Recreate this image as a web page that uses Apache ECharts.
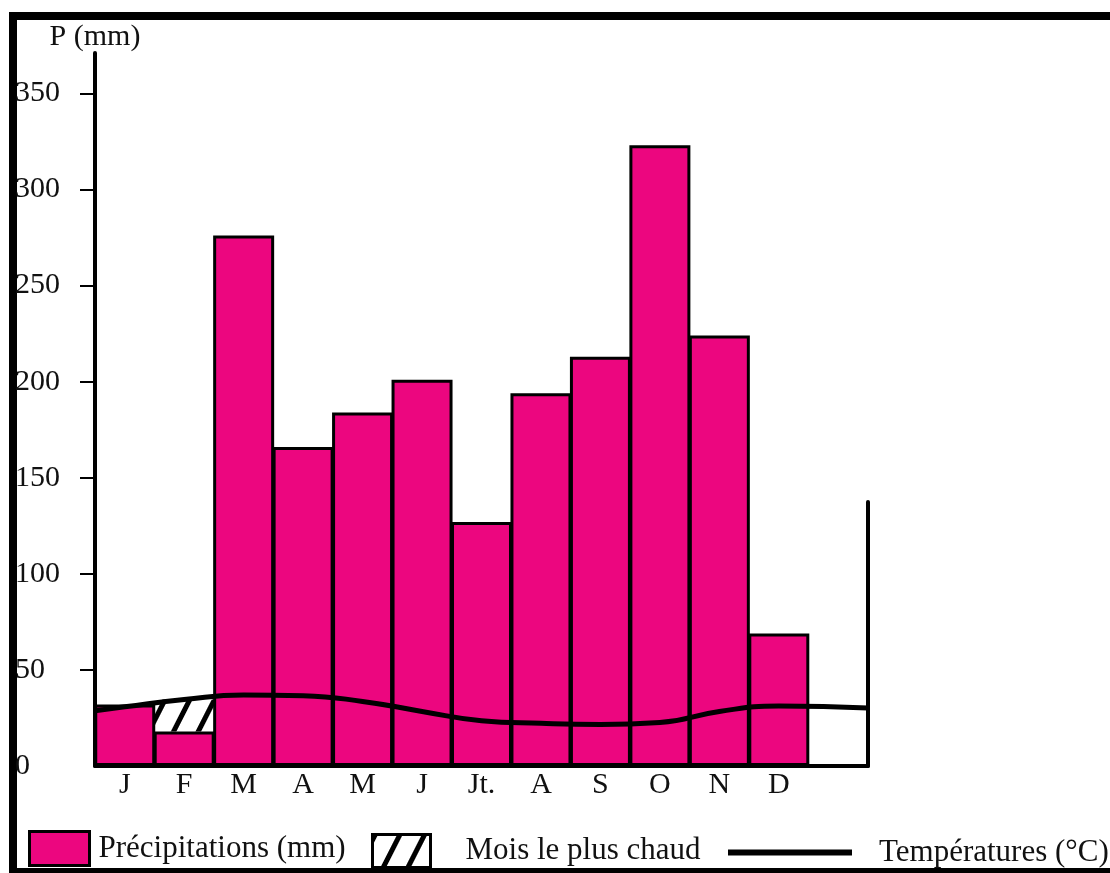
<!DOCTYPE html>
<html>
<head>
<meta charset="utf-8">
<script src="https://cdn.jsdelivr.net/npm/echarts@6/dist/echarts.min.js"></script>
<style>
  html, body { margin: 0; padding: 0; background: #fff; }
  #chart { width: 1110px; height: 873px; }
</style>
</head>
<body>
<div id="chart"></div>
<script>
// mois (13e case vide à droite)
var months = ['J', 'F', 'M', 'A', 'M', 'J', 'Jt.', 'A', 'S', 'O', 'N', 'D', ''];
// précipitations en mm
var precip = [32, 18, 276, 166, 184, 201, 127, 194, 213, 323, 224, 69];
// températures en °C (échelle P = 2T), positions en mois
var tempPos = [0, 0.5, 1.5, 2.5, 3.5, 4.5, 5.5, 6.5, 7.5, 8.5, 9.5, 10.5, 11.5, 13];
var temps = [14.4, 15.4, 17.3, 18.5, 18.3, 16.8, 14.2, 11.8, 11.1, 10.8, 11.3, 14.2, 15.6, 15.1];
var yTicks = [0, 50, 100, 150, 200, 250, 300, 350];
var hatchMonth = 1; // F

var pMax = 371;
var serif = 'Liberation Serif';
var pink = '#ec067f';

var hatch = precip.map(function (v, i) {
    return i === hatchMonth ? +(temps[i + 1] * 2 - v).toFixed(1) : '-';
});
var tempData = tempPos.map(function (x, i) { return [x, temps[i]]; });

var hatchDecal = {
    symbol: 'rect',
    symbolSize: 1,
    dashArrayX: [1, 0],
    dashArrayY: [5, 17],
    rotation: -1.1,
    color: '#000',
    backgroundColor: '#fff'
};

var myChart = echarts.init(document.getElementById('chart'));

myChart.setOption({
    backgroundColor: '#fff',
    animation: false,
    textStyle: { fontFamily: serif, color: '#111' },
    grid: [
        { left: 95, right: 242, top: 53, bottom: 107 },
        { left: 95, right: 242, top: 502, bottom: 107 }
    ],
    xAxis: [
        {
            type: 'category', gridIndex: 0, data: months, boundaryGap: true,
            axisLine: { lineStyle: { color: '#000', width: 4 } },
            axisTick: { show: false },
            axisLabel: { color: '#111', fontFamily: serif, fontSize: 30, margin: 4 }
        },
        { type: 'value', gridIndex: 0, min: 0, max: 13, show: false },
        { type: 'value', gridIndex: 1, min: 0, max: 1, show: false }
    ],
    yAxis: [
        {
            type: 'value', gridIndex: 0, min: 0, max: pMax,
            name: 'P (mm)', nameGap: 1,
            nameTextStyle: { color: '#111', fontFamily: serif, fontSize: 30, align: 'center' },
            axisLine: { show: true, onZero: false, lineStyle: { color: '#000', width: 4 } },
            axisTick: { show: true, length: 15, lineStyle: { color: '#000', width: 2 },
                customValues: yTicks.slice(1) },
            axisLabel: { color: '#111', fontFamily: serif, fontSize: 30, align: 'left', margin: 80,
                padding: [6, 0, 0, 0], customValues: yTicks },
            splitLine: { show: false }
        },
        { type: 'value', gridIndex: 0, min: 0, max: pMax / 2, show: false },
        {
            type: 'value', gridIndex: 1, position: 'right', min: 0, max: 1,
            axisLine: { show: true, onZero: false, lineStyle: { color: '#000', width: 4 } },
            axisTick: { show: false }, axisLabel: { show: false }, splitLine: { show: false }
        }
    ],
    legend: [
        {
            left: 28, top: 830, padding: 0, itemWidth: 60, itemHeight: 34, selectedMode: false,
            icon: 'rect',
            data: ['Précipitations (mm)'],
            itemStyle: { borderColor: '#000', borderWidth: 3 },
            textStyle: { color: '#111', fontFamily: serif, fontSize: 31, padding: [0, 0, 0, 4] }
        },
        {
            left: 371, top: 833, padding: 0, itemWidth: 58, itemHeight: 33, selectedMode: false,
            icon: 'rect',
            data: ['Mois le plus chaud'],
            itemStyle: { borderColor: '#000', borderWidth: 3, decal: hatchDecal },
            textStyle: { color: '#111', fontFamily: serif, fontSize: 31, padding: [0, 0, 0, 30] }
        },
        {
            left: 728, top: 837, padding: 0, itemWidth: 124, itemHeight: 6, icon: 'rect', selectedMode: false,
            data: ['Températures (°C)'],
            textStyle: { color: '#111', fontFamily: serif, fontSize: 31, padding: [0, 0, 0, 22] }
        }
    ],
    graphic: [
        { type: 'rect', shape: { x: 9, y: 12, width: 1101, height: 8 }, style: { fill: '#000' } },
        { type: 'rect', shape: { x: 9, y: 12, width: 8, height: 861 }, style: { fill: '#000' } },
        { type: 'rect', shape: { x: 9, y: 868, width: 1101, height: 5 }, style: { fill: '#000' } }
    ],
    series: [
        {
            name: 'Précipitations (mm)', type: 'bar', stack: 'p',
            xAxisIndex: 0, yAxisIndex: 0,
            barWidth: 61,
            data: precip,
            itemStyle: { color: pink, borderColor: '#000', borderWidth: 3 },
            z: 2
        },
        {
            name: 'Mois le plus chaud', type: 'bar', stack: 'p',
            xAxisIndex: 0, yAxisIndex: 0,
            barWidth: 61,
            data: hatch,
            itemStyle: { color: '#fff', borderWidth: 0, decal: hatchDecal },
            z: 1
        },
        {
            name: 'Températures (°C)', type: 'line',
            xAxisIndex: 1, yAxisIndex: 1,
            data: tempData, smooth: true, symbol: 'none',
            lineStyle: { color: '#000', width: 5 },
            itemStyle: { color: '#000' },
            z: 5
        }
    ]
});
</script>
</body>
</html>
